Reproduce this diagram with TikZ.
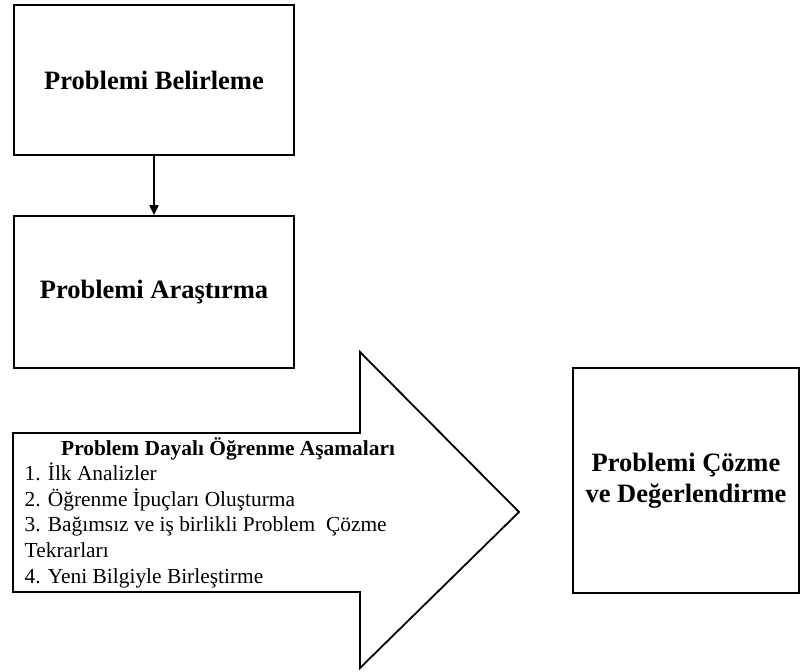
\documentclass[tikz,border=0pt]{standalone}
\usepackage{fontspec}
\setmainfont{Liberation Serif}
\usetikzlibrary{arrows.meta}

\tikzset{
  stagebox/.style={draw, line width=1.8pt, fill=white, inner sep=0pt,
    font=\fontsize{26.5}{31}\selectfont\bfseries, align=center},
  flowline/.style={line width=2pt, -{Triangle[width=9pt,length=10pt]}},
  bigarrow/.style={draw, line width=1.8pt, fill=white, line join=miter},
  steptitle/.style={anchor=base west, inner sep=0pt, font=\fontsize{21.4}{25.6}\selectfont\bfseries},
  stepline/.style={anchor=base west, inner sep=0pt, font=\fontsize{21.4}{25.6}\selectfont}
}

\begin{document}
\begin{tikzpicture}[x=1pt, y=-1pt]
  \useasboundingbox (0,0) rectangle (801,672);

  % stage boxes
  \node[stagebox, minimum width=280pt, minimum height=150pt] (b1) at (154,80) {Problemi Belirleme};
  \node[stagebox, minimum width=280pt, minimum height=152pt] (b2) at (154,292) {Problemi Araştırma};
  \node[stagebox, minimum width=226pt, minimum height=225pt] (b3) at (686,480.5)
    {Problemi Çözme\\ve Değerlendirme};

  \draw[flowline] (b1.south) -- (b2.north);

  % block arrow carrying the list of stages
  \coordinate (tip) at (519,512);
  \draw[bigarrow] (13,433) -- (360,433) -- (360,352) -- (tip) -- (360,668)
    -- (360,592) -- (13,592) -- cycle;

  \node[steptitle] (t0) at (61,455) {Problem Dayalı Öğrenme Aşamaları};
  \node[stepline] (t1) at (24.5,480.6) {1. İlk Analizler};
  \node[stepline] (t2) at (24.5,506.2) {2. Öğrenme İpuçları Oluşturma};
  \node[stepline] (t3) at (24.5,531.8) {3. Bağımsız ve iş birlikli Problem\ \ Çözme};
  \node[stepline] (t3b) at (24.5,557.4) {Tekrarları};
  \node[stepline] (t4) at (24.5,583) {4. Yeni Bilgiyle Birleştirme};
\end{tikzpicture}
\end{document}
